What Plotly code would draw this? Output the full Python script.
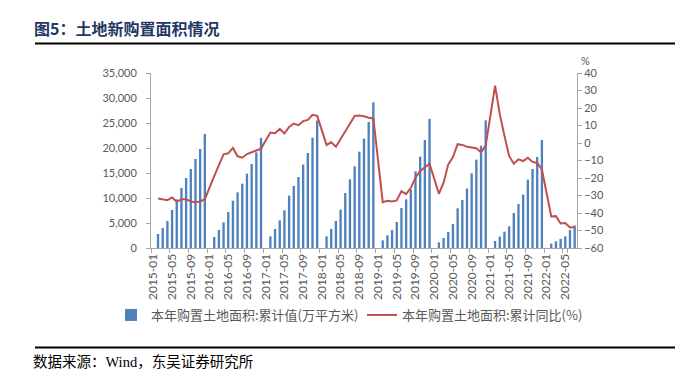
import plotly.graph_objects as go

# ---------------- data ----------------
years = list(range(2015, 2023))
months = [f"{y}-{m:02d}" for y in years for m in range(1, 13)][:91]  # 2015-01 .. 2022-07

area_2015 = [None, 2800, 4000, 5400, 7600, 9730, 12000, 14000, 15800, 17800, 19800, 22810]
area_2016 = [None, 2200, 3600, 5130, 7200, 9470, 11130, 12870, 14870, 16800, 19130, 22030]
area_2017 = [None, 2330, 3800, 5530, 7530, 10470, 12400, 14200, 16670, 19000, 22070, 25510]
area_2018 = [None, 2330, 3800, 5400, 7670, 11000, 13730, 16330, 19270, 21870, 25200, 29140]
area_2019 = [None, 1530, 2530, 3600, 5200, 8000, 9730, 11670, 15330, 18270, 21600, 25820]
area_2020 = [None, 1130, 2000, 3200, 4800, 7930, 9600, 11870, 14930, 17670, 20470, 25540]
area_2021 = [None, 1400, 2270, 3270, 4330, 7000, 8800, 10670, 13670, 15800, 18200, 21590]
area_2022 = [None, 870, 1330, 1800, 2330, 3600, 4530]

yoy_2015 = [None, -31.7, -32.3, -32.7, -31.1, -33.6, -32.1, -32.1, -33.4, -33.8, -33.4, -32.1]
yoy_2016 = [None, -18.9, -12.2, -6.5, -5.9, -2.8, -7.6, -8.4, -6.3, -5.5, -4.3, -3.2]
yoy_2017 = [None, 6.0, 5.6, 8.1, 5.4, 9.2, 11.1, 10.2, 12.5, 13.2, 16.1, 15.5]
yoy_2018 = [None, -1.1, 0.4, -2.1, 2.2, 6.6, 10.8, 15.5, 15.7, 15.3, 14.4, 14.0]
yoy_2019 = [None, -33.8, -33.0, -33.4, -32.8, -27.5, -29.2, -25.6, -19.8, -16.0, -14.1, -11.8]
yoy_2020 = [None, -29.0, -22.7, -12.2, -8.0, -0.7, -1.1, -2.2, -2.6, -3.0, -5.3, -1.5]
yoy_2021 = [None, 32.8, 16.5, 4.1, -7.4, -11.8, -9.3, -10.3, -8.4, -10.8, -11.4, -15.1]
yoy_2022 = [None, -42.0, -41.8, -46.0, -45.7, -48.3, -48.1]

area = area_2015 + area_2016 + area_2017 + area_2018 + area_2019 + area_2020 + area_2021 + area_2022
yoy = yoy_2015 + yoy_2016 + yoy_2017 + yoy_2018 + yoy_2019 + yoy_2020 + yoy_2021 + yoy_2022
tick_labels = months[::4]

bar_name = "本年购置土地面积:累计值(万平方米)"
line_name = "本年购置土地面积:累计同比(%)"

# ---------------- figure ----------------
W, H = 688, 372
L, R, T, B = 143, 119, 65, 132
pw, ph = W - L - R, H - T - B
px = lambda x: (x - L) / pw
py = lambda y: (H - B - y) / ph

axis_font = dict(family="Lato, Liberation Sans, sans-serif", size=11, color="#595959")
xaxis_font = dict(family="Lato, Liberation Sans, sans-serif", size=12, color="#595959")
cjk = "Noto Sans CJK SC, sans-serif"

fig = go.Figure()
fig.add_trace(go.Bar(x=months, y=area, name=bar_name, marker_color="#4F81BD",
                     marker_line_width=0, yaxis="y"))
fig.add_trace(go.Scatter(x=months, y=yoy, name=line_name, mode="lines", connectgaps=True,
                         line=dict(color="#C0504D", width=2), yaxis="y2"))

fig.update_layout(
    width=W, height=H, margin=dict(l=L, r=R, t=T, b=B),
    paper_bgcolor="white", plot_bgcolor="white",
    bargap=0.5, showlegend=True,
    xaxis=dict(type="category", categoryorder="array", categoryarray=months,
               range=[-0.5, len(months) - 0.5],
               tickmode="array", tickvals=tick_labels, ticktext=tick_labels,
               tickangle=-90, tickfont=xaxis_font, ticks="outside", ticklen=4,
               tickson="boundaries", tickcolor="#A6A6A6",
               showline=True, linecolor="#A6A6A6", linewidth=1, showgrid=False, zeroline=False),
    yaxis=dict(range=[0, 35000], dtick=5000, tickformat=",", tickfont=axis_font,
               ticks="outside", ticklen=4, tickcolor="#A6A6A6", ticklabelstandoff=7,
               showline=True, linecolor="#A6A6A6", linewidth=1, showgrid=False, zeroline=False),
    yaxis2=dict(range=[-60, 40], dtick=10, overlaying="y", side="right", tickfont=axis_font,
                ticks="outside", ticklen=4, tickcolor="#A6A6A6",
                showline=True, linecolor="#A6A6A6", linewidth=1, showgrid=False, zeroline=False),
    legend=dict(orientation="h", x=px(103), xanchor="left", y=py(307), yanchor="middle",
                font=dict(family=cjk, size=13, color="#595959"),
                bgcolor="rgba(0,0,0,0)", entrywidth=206, entrywidthmode="pixels",
                itemwidth=30),
)

fig.add_shape(type="line", xref="paper", yref="paper", x0=px(27), x1=px(667), y0=py(35.5), y1=py(35.5),
              line=dict(color="black", width=2))
fig.add_shape(type="line", xref="paper", yref="paper", x0=px(27), x1=px(667), y0=py(339.5), y1=py(339.5),
              line=dict(color="black", width=2))

fig.add_annotation(text="<b>图5：土地新购置面积情况</b>", xref="paper", yref="paper",
                   x=px(24), y=py(20), xanchor="left", yanchor="middle", showarrow=False,
                   font=dict(family=cjk, size=16, color="#1F3864"))
fig.add_annotation(text="数据来源：Wind，东吴证券研究所", xref="paper", yref="paper",
                   x=px(23), y=py(354), xanchor="left", yanchor="middle", showarrow=False,
                   font=dict(family="Liberation Serif, " + cjk, size=14.5, color="black"))
fig.add_annotation(text="%", xref="paper", yref="paper",
                   x=px(577), y=py(52), xanchor="center", yanchor="middle", showarrow=False,
                   font=axis_font)

fig.write_html("out.html")
